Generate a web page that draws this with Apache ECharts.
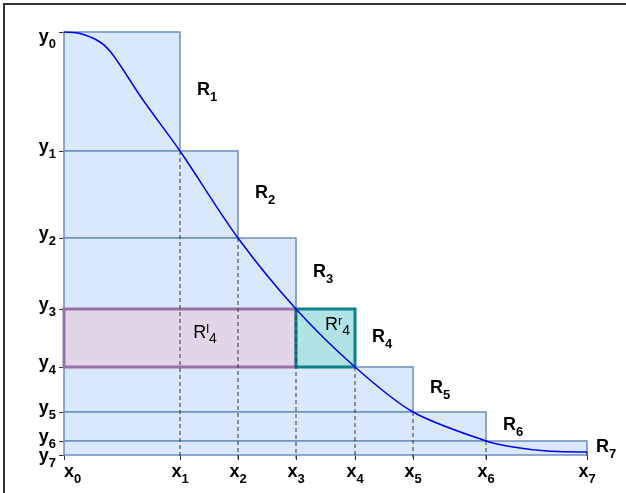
<!DOCTYPE html>
<html>
<head>
<meta charset="utf-8">
<script src="https://cdn.jsdelivr.net/npm/echarts@6/dist/echarts.min.js"></script>
<style>
  html, body { margin: 0; padding: 0; background: #fff; }
  #chart { width: 626px; height: 493px; }
</style>
</head>
<body>
<div id="chart"></div>
<script>
// corner points of the layers (x_i, y_i)
var xVals = [0, 1.16, 1.74, 2.32, 2.91, 3.49, 4.22, 5.23];
var yVals = [4.23, 3.04, 2.17, 1.46, 0.88, 0.43, 0.14, 0];
// points
var curveX = [0, 0.16, 0.36, 0.49, 0.79, 1.16, 1.74, 2.32, 2.91, 3.49, 4.22, 4.49, 4.83, 5.23];
var curveY = [4.23, 4.215, 4.13, 4.0, 3.55, 3.04, 2.17, 1.46, 0.88, 0.43, 0.14, 0.08, 0.04, 0.03];
// tick labels and rectangle names
var xTickLabels = ['x_0', 'x_1', 'x_2', 'x_3', 'x_4', 'x_5', 'x_6', 'x_7'];
var yTickLabels = ['y_0', 'y_1', 'y_2', 'y_3', 'y_4', 'y_5', 'y_6', 'y_7'];
var rectNames = ['R_1', 'R_2', 'R_3', 'R_4', 'R_5', 'R_6', 'R_7'];
var splitNames = ['R^l_4', 'R^r_4'];

var FONT = '"Liberation Sans", Arial, sans-serif';

var chart = echarts.init(document.getElementById('chart'));

function subText(lbl, key) {
  var p = lbl.split('_');
  return '{' + key + 'm|' + p[0] + '}{' + key + 's|' + p[1] + '}';
}
function supSubText(lbl, key) {
  // 'R^l_4'
  var a = lbl.split('^');
  var b = a[1].split('_');
  return '{' + key + 'm|' + a[0] + '}{' + key + 't|' + b[0] + '}{' + key + 's|' + b[1] + '}';
}

// tokens with lineHeight 1: label boxes stay thin, padding moves each token up/down
function tok(size, weight, color, pad) {
  return { fontSize: size, fontWeight: weight, color: color, fontFamily: FONT, lineHeight: 1, padding: pad };
}
var rich = {
  // x labels and R_i
  am: tok(18, 'bold', '#000', [0, 0, 0, 0]),
  as: tok(13, 'bold', '#000', [14, 0, 0, 0]),
  // y labels (raised a bit)
  ym: tok(18, 'bold', '#000', [0, 0, 7, 0]),
  ys: tok(13, 'bold', '#000', [7, 0, 0, 0]),
  gap: { fontSize: 10, lineHeight: 17 },
  gp: { fontSize: 4, lineHeight: 9 },
  lm: tok(18, 'normal', '#9673a6', [0, 0, 0, 0]),
  lt: tok(13, 'normal', '#9673a6', [0, 0, 7, 0]),
  ls: tok(14, 'normal', '#9673a6', [13, 0, 0, 0]),
  rm: tok(18, 'normal', '#1a8f92', [0, 0, 0, 0]),
  rt: tok(13, 'normal', '#1a8f92', [0, 0, 7, 0]),
  rs: tok(14, 'normal', '#1a8f92', [13, 0, 0, 0])
};

// R_i = [0, x_i] x [y_i, y_{i-1}]
var rectData = [];
for (var i = 1; i < xVals.length; i++) {
  rectData.push([0, xVals[i], yVals[i], yVals[i - 1], i - 1]);
}
// R_4 split at x_3
var splitData = [
  [0, xVals[3], yVals[4], yVals[3], 0],
  [xVals[3], xVals[4], yVals[4], yVals[3], 1]
];
var dashData = [];
for (var i = 1; i < xVals.length; i++) {
  dashData.push([xVals[i], i < xVals.length - 1 ? yVals[i] : curveY[curveY.length - 1]]);
}
var yLabelData = yVals.map(function (v, i) { return [0, v, i]; });
var curveData = curveX.map(function (x, i) { return [x, curveY[i]]; });

function rectShape(api) {
  var p0 = api.coord([api.value(0), api.value(3)]);
  var p1 = api.coord([api.value(1), api.value(2)]);
  return { x: p0[0], y: p0[1], width: p1[0] - p0[0], height: p1[1] - p0[1] };
}

var option = {
  animation: false,
  grid: { left: 64, right: 39, top: 32, bottom: 38 },
  graphic: [{
    type: 'polyline',
    shape: { points: [[4, 493], [4, 4], [626, 4]] },
    style: { stroke: '#333', lineWidth: 2, fill: null },
    z: 100
  }],
  xAxis: {
    type: 'value', min: 0, max: 5.23,
    axisLine: { show: false },
    splitLine: { show: false },
    axisTick: { customValues: xVals, length: 5, lineStyle: { color: '#333' } },
    axisLabel: {
      customValues: xVals,
      margin: 17,
      showMinLabel: true,
      showMaxLabel: true,
      hideOverlap: false,
      alignMinLabel: 'left',
      formatter: function (v) { return subText(xTickLabels[xVals.indexOf(v)], 'a'); },
      rich: rich
    }
  },
  yAxis: {
    type: 'value', min: 0, max: 4.23,
    axisLine: { show: false },
    splitLine: { show: false },
    axisTick: { customValues: yVals, length: 5, lineStyle: { color: '#333' } },
    axisLabel: { show: false }
  },
  series: [
    {
      type: 'custom',
      data: rectData,
      renderItem: function (params, api) {
        var sh = rectShape(api);
        var k = api.value(4);
        var dx = k === rectNames.length - 1 ? 9 : 17;
        return {
          type: 'group',
          children: [
            { type: 'rect', shape: sh, style: { fill: '#dae8fc', stroke: '#6c8ebf', lineWidth: 1.5 } },
            {
              type: 'text',
              x: sh.x + sh.width + dx, y: sh.y + sh.height / 2 - 1,
              style: { text: subText(rectNames[k], 'a'), rich: rich, verticalAlign: 'middle', align: 'left' }
            }
          ]
        };
      }
    },
    {
      type: 'custom',
      data: splitData,
      renderItem: function (params, api) {
        var sh = rectShape(api);
        var k = api.value(4);
        var left = k === 0;
        return {
          type: 'group',
          children: [
            {
              type: 'rect', shape: sh,
              style: left
                ? { fill: '#e1d5e7', stroke: '#9673a6', lineWidth: 3 }
                : { fill: '#b0e3e6', stroke: '#0e8088', lineWidth: 3 }
            },
            {
              type: 'text',
              x: left ? sh.x + sh.width / 2 + 25 : sh.x + sh.width - 5,
              y: left ? sh.y + sh.height / 2 - 5 : sh.y + 16,
              style: {
                text: supSubText(splitNames[k], left ? 'l' : 'r'), rich: rich,
                align: left ? 'center' : 'right', verticalAlign: 'middle'
              }
            }
          ]
        };
      }
    },
    {
      type: 'custom',
      data: dashData,
      renderItem: function (params, api) {
        var p = api.coord([api.value(0), api.value(1)]);
        var b = api.coord([api.value(0), 0]);
        return {
          type: 'line',
          shape: { x1: p[0], y1: p[1], x2: b[0], y2: b[1] + 4 },
          style: { stroke: '#333', lineWidth: 1, lineDash: [4, 3] }
        };
      }
    },
    {
      // y tick labels (drawn here so none gets hidden as overlapping)
      type: 'custom',
      data: yLabelData,
      clip: false,
      renderItem: function (params, api) {
        var p = api.coord([api.value(0), api.value(1)]);
        var i = api.value(2);
        var t = subText(yTickLabels[i], 'y');
        // top label sits below its tick, bottom one a little lower too
        if (i === 0) t = '{gap| }\n' + t;
        else if (i === yVals.length - 1) t = '{gp| }\n' + t;
        return {
          type: 'text',
          x: p[0] - 8, y: p[1],
          style: { text: t, rich: rich, align: 'right', verticalAlign: 'middle' }
        };
      }
    },
    {
      type: 'line',
      data: curveData,
      smooth: 0.3,
      symbol: 'none',
      lineStyle: { color: '#0000ff', width: 1.5 },
      z: 5
    }
  ]
};

chart.setOption(option);
</script>
</body>
</html>
